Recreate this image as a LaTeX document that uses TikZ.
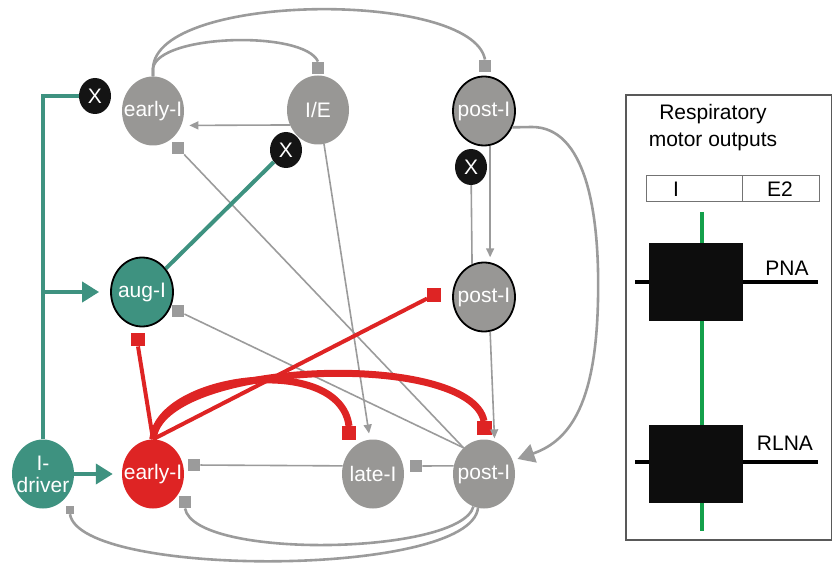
\documentclass[tikz,border=0pt]{standalone}
\usepackage{fontspec}
\setmainfont{Liberation Sans}
\usetikzlibrary{shapes.geometric,arrows.meta}
\definecolor{gnode}{RGB}{152,151,149}
\definecolor{gline}{RGB}{155,155,155}
\definecolor{tealc}{RGB}{62,146,128}
\definecolor{redc}{RGB}{222,36,36}
\definecolor{grnc}{RGB}{20,160,75}
\begin{document}
\begin{tikzpicture}[x=1pt,y=-1pt,
  font=\fontsize{21}{22}\selectfont,
  nd/.style={ellipse, minimum width=62pt, minimum height=69pt, inner sep=0pt, fill=gnode,
     label={[text=white,align=center,inner sep=0pt]center:#1}},
  bnd/.style={nd={#1}, draw=black, line width=1.8pt},
  xnd/.style={ellipse, minimum width=32pt, minimum height=36pt, inner sep=0pt, fill=black!92, text=white},
  gsq/.style={rectangle, fill=gline, minimum size=12.5pt, inner sep=0pt},
  rsq/.style={rectangle, fill=redc, minimum size=13.5pt, inner sep=0pt},
  gthin/.style={draw=gline, line width=1.6pt},
  garc/.style={draw=gline, line width=2.6pt},
  gtip/.style={-{Triangle[length=9pt,width=8pt]}},
  rthin/.style={draw=redc, line width=4pt},
  rthick/.style={draw=redc, line width=7pt},
  tl/.style={draw=tealc, line width=4pt},
  ttip/.style={-{Triangle[length=17pt,width=20pt]}},
]
\useasboundingbox (0,0) rectangle (833,564);

% ---- neuron nodes ----
\node[nd={early-I}] (eI1) at (153,111) {};
\node[nd={I/E}] (IE) at (318,110) {};
\node[bnd={post-I}] (pI1) at (484,111) {};
\node[bnd={aug-I}, fill=tealc] (augI) at (142,292) {};
\node[bnd={post-I}] (pI2) at (484,297) {};
\node[nd={I-\\driver}, fill=tealc] (Idrv) at (43,474) {};
\node[nd={early-I}, fill=redc] (erI) at (153,474) {};
\node[nd={late-I}] (lateI) at (373,474) {};
\node[nd={post-I}] (pI3) at (484,474) {};

\node[xnd] (X1) at (95,96) {X};
\node[xnd] (X2) at (286,150) {X};
\node[xnd] (X3) at (471,167) {X};

% ---- inhibitory end squares ----
\node[gsq] (sqIE) at (318,68) {};
\node[gsq] (sqP1) at (485,66) {};
\node[gsq] (sqT) at (178,148) {};
\node[gsq] (sqAug) at (178,311) {};
\node[gsq] (sqE1) at (194,465) {};
\node[gsq] (sqL) at (416,466) {};
\node[gsq] (sqE2) at (185,502) {};
\node[gsq, minimum size=8pt] (sqDrv) at (70,510) {};
\node[rsq] (sqA) at (138,339.5) {};
\node[rsq] (sqB) at (434,295) {};
\node[rsq] (sqC) at (349,433) {};
\node[rsq, minimum width=15pt] (sqD) at (484,428) {};

% ---- gray connections ----
\draw[garc] (eI1.north) -- ++(0,-8) .. controls (156,-8) and (472,-10) .. (sqP1.north);
\draw[garc] (eI1.north) -- ++(0,-8) .. controls (158,34) and (304,30) .. (sqIE.north);
\draw[gthin, gtip, shorten >=8pt] (IE.208) -- (eI1.-27);
\draw[gthin, gtip, shorten >=6pt] (IE.-80) -- (lateI.95);
\draw[gthin] (sqT) -- (pI3.128);
\draw[gthin] (sqAug) -- (pI3.128);
\draw[gthin, gtip, shorten >=5pt] (pI1.-80) -- (pI2.80);
\draw[gthin] (X3) -- (pI2.110);
\draw[gthin, gtip, shorten >=3pt] (pI2.-80) -- (pI3.72);
\draw[garc, -{Triangle[length=17pt,width=19pt]}, shorten >=5pt]
  (pI1.-30) -- (532,127) .. controls (585,127) and (600,210) .. (598,300)
  .. controls (596,400) and (572,440) .. (pI3.25);
\draw[gthin] (pI3.165) -- (sqL);
\draw[gthin] (lateI.165) -- (sqE1);
\draw[garc] (pI3.-108) .. controls (460,555) and (195,560) .. (sqE2.south);
\draw[garc] (pI3.-100) .. controls (470,578) and (80,578) .. (sqDrv.south);

% ---- red connections ----
\draw[rthin] (erI.north) -- (sqA.south);
\draw[rthin] (erI.north) -- (sqB);
\draw[rthick] (erI.north) .. controls (158,375) and (340,352) .. (sqC.north);
\draw[rthick] (erI.north) .. controls (160,360) and (470,350) .. (sqD.north);

% ---- teal connections ----
\coordinate (br) at (43,292);
\draw[tl] (Idrv.north) |- (X1.west);
\draw[tl, ttip, shorten >=11pt] (br) -- (augI.west);
\draw[tl, ttip, shorten >=9pt] (Idrv.east) -- (erI.west);
\draw[tl] (augI) -- (X2);

% ---- right panel ----
\node[draw=black!65, line width=1.3pt, minimum width=205.5pt, minimum height=445pt, inner sep=0pt] (panel) at (728.75,317.5) {};
\node[align=center, font=\fontsize{21}{27}\selectfont] (title) at (713,128) {Respiratory\\motor outputs};
\node[draw=black!55, line width=1pt, minimum width=96pt, minimum height=26pt, inner sep=0pt] (cellI) at (694,189) {};
\node[draw=black!55, line width=1pt, minimum width=77pt, minimum height=26pt, inner sep=0pt] (cellE) at (780.5,189) {};
\node (lblI) at (676,189) {I};
\node (lblE) at (780,189) {E2};

\coordinate (gtop) at (702,212);
\coordinate (gbot) at (702,531);
\draw[draw=grnc, line width=4pt] (gtop) -- (gbot);

\coordinate (pnaL) at (635,282);
\coordinate (pnaR) at (818,282);
\coordinate (rlL) at (635,462);
\coordinate (rlR) at (818,462);
\draw[line width=4pt] (pnaL) -- (pnaR);
\draw[line width=4pt] (rlL) -- (rlR);
\node[fill=black!95, minimum width=94pt, minimum height=78pt, inner sep=0pt] (pna) at (696,282) {};
\node[fill=black!95, minimum width=94pt, minimum height=78pt, inner sep=0pt] (rlna) at (696,464) {};
\node (lblPNA) at (787,268) {PNA};
\node (lblRLNA) at (785,443) {RLNA};
\end{tikzpicture}
\end{document}
